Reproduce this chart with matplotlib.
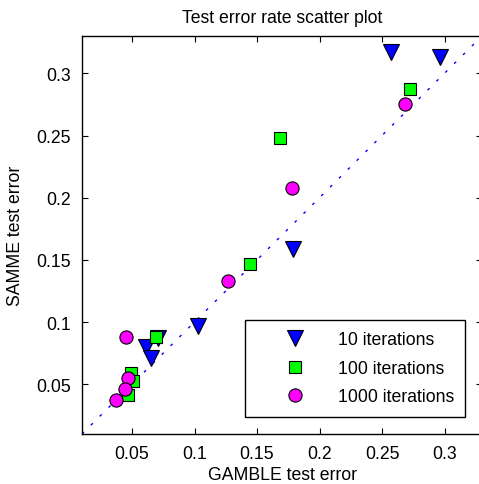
import matplotlib
matplotlib.use("Agg")
import matplotlib.pyplot as plt

plt.rcParams['font.family'] = ['Liberation Sans', 'DejaVu Sans']

# GAMBLE (x) vs SAMME (y) test error for each number of boosting iterations
gamble_10 = [0.257, 0.296, 0.179, 0.103, 0.071, 0.061, 0.065]
samme_10 = [0.317, 0.313, 0.159, 0.097, 0.087, 0.080, 0.071]

gamble_100 = [0.272, 0.168, 0.144, 0.069, 0.049, 0.051, 0.047]
samme_100 = [0.287, 0.248, 0.147, 0.088, 0.059, 0.053, 0.041]

gamble_1000 = [0.268, 0.178, 0.127, 0.045, 0.047, 0.044, 0.037]
samme_1000 = [0.275, 0.208, 0.133, 0.088, 0.055, 0.046, 0.037]

diag = [0.01, 0.33]
xticks = [0.05, 0.1, 0.15, 0.2, 0.25, 0.3]
yticks = [0.05, 0.1, 0.15, 0.2, 0.25, 0.3]

fig = plt.figure(figsize=(4.79, 4.85), dpi=100)
ax = fig.add_axes([82 / 479, 50 / 485, 400 / 479, 398 / 485])

ax.plot(diag, diag, color='blue', lw=1.0, linestyle=(0, (2, 7)))
ax.plot(gamble_10, samme_10, 'v', ms=11.5, mfc='blue', mec='black', mew=0.8,
        ls='none', label='10 iterations')
ax.plot(gamble_100, samme_100, 's', ms=8, mfc='#00ff00', mec='black', mew=0.8,
        ls='none', label='100 iterations')
ax.plot(gamble_1000, samme_1000, 'o', ms=9.5, mfc='magenta', mec='black', mew=0.8,
        ls='none', label='1000 iterations')

ax.set_xlim(diag)
ax.set_ylim(diag)
ax.set_xticks(xticks)
ax.set_yticks(yticks)
ax.set_xticklabels([f"{t:g}" for t in xticks])
ax.set_yticklabels([f"{t:g}" for t in yticks])
ax.tick_params(direction='in', length=4, width=0.8, top=True, right=True,
               labelsize=12.7, pad=8)
for s in ax.spines.values():
    s.set_linewidth(1.0)

ax.set_title("Test error rate scatter plot", fontsize=12.7, pad=10)
ax.set_xlabel("GAMBLE test error", fontsize=12.7, labelpad=3)
ax.set_ylabel("SAMME test error", fontsize=12.7, labelpad=9)

leg = ax.legend(loc='upper left', bbox_to_anchor=((245 - 82) / 400, (435 - 321) / 398),
                borderaxespad=0, fontsize=12.7, fancybox=False, framealpha=1,
                edgecolor='black', handlelength=4.4, handletextpad=0.2,
                borderpad=0.65, labelspacing=0.65)
leg.get_frame().set_linewidth(1.0)

fig.savefig("out.png", dpi=100)
